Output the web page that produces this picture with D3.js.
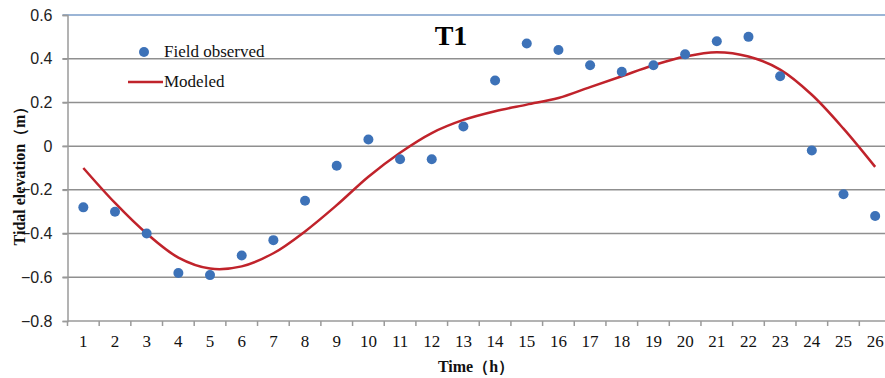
<!DOCTYPE html>
<html>
<head>
<meta charset="utf-8">
<script src="https://cdn.jsdelivr.net/npm/d3@7"></script>
<style>
  body { margin: 0; background: #fff; }
  svg { display: block; }
</style>
</head>
<body>
<div id="chart"></div>
<script>
// time steps (h)
const hours = d3.range(1, 27);
// field observed tidal elevation (m)
const observed = [-0.28, -0.30, -0.40, -0.58, -0.59, -0.50, -0.43, -0.25, -0.09, 0.03,
  -0.06, -0.06, 0.09, 0.30, 0.47, 0.44, 0.37, 0.34, 0.37, 0.42,
  0.48, 0.50, 0.32, -0.02, -0.22, -0.32];
// modeled tidal elevation (m)
const modeled = [-0.10, -0.26, -0.40, -0.51, -0.56, -0.55, -0.49, -0.39, -0.27, -0.14,
  -0.03, 0.06, 0.12, 0.16, 0.19, 0.22, 0.27, 0.32, 0.37, 0.41,
  0.43, 0.41, 0.35, 0.235, 0.08, -0.095];
const yTicks = [-0.8, -0.6, -0.4, -0.2, 0, 0.2, 0.4, 0.6];

function drawChart(id) {
  const width = 885, height = 378;
  const margin = { top: 15, right: -6, bottom: 57, left: 67.5 };

  const svg = d3.select(`#${id}`)
    .append("svg")
    .attr("width", width)
    .attr("height", height);

  const x = d3.scaleBand()
    .domain(hours)
    .range([margin.left, width - margin.right]);

  const y = d3.scaleLinear()
    .domain([-0.8, 0.6])
    .range([height - margin.bottom, margin.top]);

  const cx = (d) => x(d) + x.bandwidth() / 2;

  // horizontal gridlines
  svg.append("g")
    .selectAll("line")
    .data(yTicks.filter((d) => d > -0.8))
    .join("line")
    .attr("x1", margin.left - 5)
    .attr("x2", width)
    .attr("y1", (d) => y(d))
    .attr("y2", (d) => y(d))
    .attr("stroke", (d) => d === 0.6 ? "#7a9cc8" : "#8f8f8f")
    .attr("stroke-width", 1.5);

  // y axis
  const yAxis = svg.append("g")
    .attr("transform", `translate(${margin.left},0)`)
    .call(d3.axisLeft(y).tickValues(yTicks).tickSize(5).tickPadding(10)
      .tickFormat((d) => d === 0 ? "0" : d3.format(".1f")(d)));
  yAxis.select(".domain").attr("stroke", "#9a9a9a").attr("stroke-width", 1.5);
  yAxis.selectAll(".tick line").attr("stroke", "#9a9a9a").attr("stroke-width", 1.5);
  yAxis.selectAll(".tick text")
    .attr("font-family", "'Liberation Sans', Arial, sans-serif")
    .attr("font-size", 16)
    .attr("fill", "#222");

  // x axis with ticks between categories
  const xg = svg.append("g");
  xg.append("line")
    .attr("x1", margin.left).attr("x2", width)
    .attr("y1", y(-0.8)).attr("y2", y(-0.8))
    .attr("stroke", "#9a9a9a").attr("stroke-width", 1.5);
  xg.selectAll(".xt")
    .data(hours)
    .join("line")
    .attr("class", "xt")
    .attr("x1", (d) => x(d)).attr("x2", (d) => x(d))
    .attr("y1", y(-0.8)).attr("y2", y(-0.8) + 5)
    .attr("stroke", "#9a9a9a").attr("stroke-width", 1.5);
  xg.selectAll("text")
    .data(hours)
    .join("text")
    .attr("x", cx)
    .attr("y", y(-0.8) + 26)
    .attr("text-anchor", "middle")
    .attr("font-family", "'Liberation Serif', 'Times New Roman', serif")
    .attr("font-size", 17)
    .attr("fill", "#111")
    .text((d) => d);

  // modeled line
  const line = d3.line()
    .x((d, i) => cx(hours[i]))
    .y((d) => y(d))
    .curve(d3.curveCatmullRom.alpha(0.5));

  svg.append("path")
    .datum(modeled)
    .attr("d", line)
    .attr("fill", "none")
    .attr("stroke", "#c0232b")
    .attr("stroke-width", 2.5);

  // observed points
  svg.append("g")
    .selectAll("circle")
    .data(observed)
    .join("circle")
    .attr("cx", (d, i) => cx(hours[i]))
    .attr("cy", (d) => y(d))
    .attr("r", 5)
    .attr("fill", "#3d72b8");

  // title
  svg.append("text")
    .attr("x", 451).attr("y", 45)
    .attr("text-anchor", "middle")
    .attr("font-family", "'Liberation Serif', 'Times New Roman', serif")
    .attr("font-weight", "bold")
    .attr("font-size", 28)
    .attr("fill", "#000")
    .text("T1");

  // legend
  const legend = svg.append("g")
    .attr("font-family", "'Liberation Serif', 'Times New Roman', serif")
    .attr("font-size", 17)
    .attr("fill", "#111");
  legend.append("circle").attr("cx", 144).attr("cy", 52).attr("r", 5).attr("fill", "#3d72b8");
  legend.append("text").attr("x", 164).attr("y", 57).text("Field observed");
  legend.append("line")
    .attr("x1", 128).attr("x2", 163).attr("y1", 82).attr("y2", 82)
    .attr("stroke", "#c0232b").attr("stroke-width", 2.5);
  legend.append("text").attr("x", 164).attr("y", 87).text("Modeled");

  // axis titles
  svg.append("text")
    .attr("x", 476).attr("y", 372)
    .attr("text-anchor", "middle")
    .attr("font-family", "'Liberation Serif', 'Times New Roman', serif")
    .attr("font-weight", "bold")
    .attr("font-size", 16)
    .attr("fill", "#111")
    .text("Time（h）");

  svg.append("text")
    .attr("transform", "translate(25,172) rotate(-90)")
    .attr("text-anchor", "middle")
    .attr("font-family", "'Liberation Serif', 'Times New Roman', serif")
    .attr("font-weight", "bold")
    .attr("font-size", 16)
    .attr("fill", "#111")
    .text("Tidal elevation（m）");
}

document.addEventListener("DOMContentLoaded", function () {
  drawChart("chart");
});
</script>
</body>
</html>
